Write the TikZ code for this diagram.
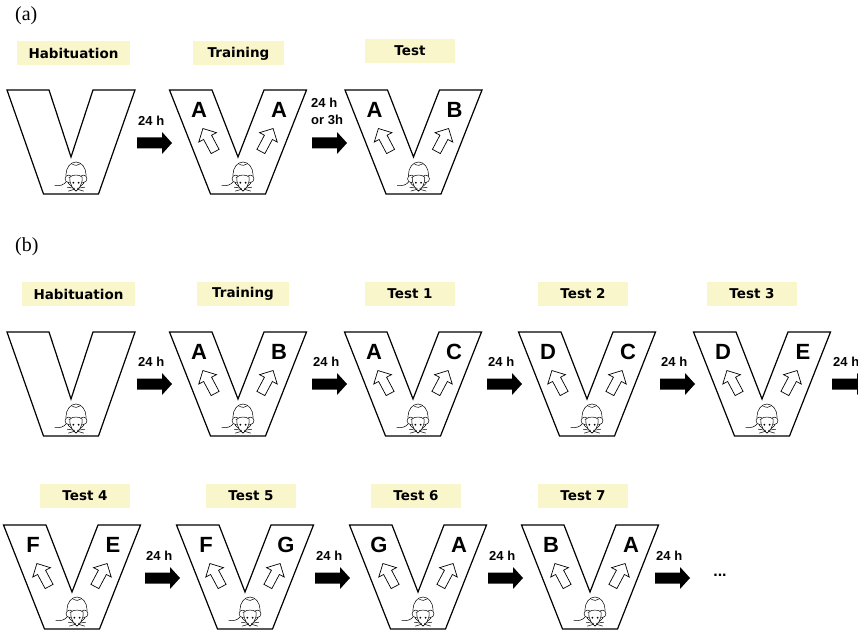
\documentclass[tikz,border=0pt]{standalone}
\usepackage{fontspec}
\setmainfont{Liberation Serif}
\newfontfamily\stagefont{DejaVu Sans}
\newfontfamily\armfont{Liberation Sans}
\definecolor{labelfill}{RGB}{250,246,204}

\tikzset{
  stagebox/.style={fill=labelfill, inner sep=0pt, minimum height=24pt,
    font=\stagefont\bfseries\fontsize{13.5}{16}\selectfont},
  armletter/.style={inner sep=0pt, font=\armfont\bfseries\fontsize{22}{25}\selectfont},
  delaylabel/.style={inner sep=0pt, anchor=north west, align=left,
    font=\armfont\bfseries\fontsize{13}{17}\selectfont},
  panellabel/.style={inner sep=0pt, anchor=north west, font=\fontsize{20}{23}\selectfont},
  mazeline/.style={line width=1.2pt, line join=miter},
  % V-shaped maze: outer half width, half gap between the arm tops
  pics/vmaze/.style n args={2}{code={
    \draw[mazeline] (-#1,0) -- (-#2,0) -- (0,67) -- (#2,0) -- (#1,0)
      -- (27.5,104) -- (-27.5,104) -- cycle;
  }},
  % hollow arrow pointing up
  pics/openarrow/.style={code={
    \draw[line width=0.7pt, fill=white, line join=miter]
      (0,-13) -- (10,-3) -- (4.5,-3) -- (4.5,13) -- (-4.5,13) -- (-4.5,-3) -- (-10,-3) -- cycle;
  }},
  % filled arrow pointing right, tail at the origin
  pics/blockarrow/.style={code={
    \fill (0,-5.5) -- (25,-5.5) -- (25,-11) -- (35,0) -- (25,11) -- (25,5.5) -- (0,5.5) -- cycle;
  }},
  % mouse seen from above, head towards the bottom
  pics/mouse/.style={code={
    \begin{scope}[line width=0.5pt, scale=1.12]
      \draw[fill=white] (0,-1) ellipse [x radius=9, y radius=11.5];
      \draw (-4,-11) .. controls (-1,-9) and (2,-9) .. (4,-11);
      \draw (-8.5,5) .. controls (-11,8) and (-14,9) .. (-19,8.5);
      \draw[fill=white] (-6.5,2.5) circle [radius=3.3];
      \draw[fill=white] (6.5,2.5) circle [radius=3.3];
      \draw[fill=white] (-5.5,1) .. controls (-6,8) and (-2,12) .. (0,13.5)
        .. controls (2,12) and (6,8) .. (5.5,1) .. controls (3,-1.5) and (-3,-1.5) .. cycle;
      \fill (-2.3,6) circle [radius=0.9];
      \fill (2.3,6) circle [radius=0.9];
      \fill (0,13) circle [radius=0.7];
      \draw (-1,11) -- (-8,10);
      \draw (-1,11.8) -- (-7,13.5);
      \draw (1,11) -- (8,10);
      \draw (1,11.8) -- (7,13.5);
    \end{scope}
  }},
}

% maze with arm cues: name, centre x, top y, left cue, right cue
\newcommand\cuemaze[5]{%
  \pic at (#2,#3) {vmaze={68.5}{26}};
  \node[armletter] (#1-left) at (#2-39,#3+20) {#4};
  \node[armletter] (#1-right) at (#2+41,#3+20) {#5};
  \pic[rotate=28] at (#2-29,#3+50) {openarrow};
  \pic[rotate=-28] at (#2+29,#3+50) {openarrow};
  \pic at (#2+5,#3+86) {mouse};
}
% empty maze used for habituation
\newcommand\plainmaze[2]{%
  \pic at (#1,#2) {vmaze={64}{22}};
  \pic at (#1+5,#2+86) {mouse};
}
% delay arrow: name, tail x, centre y, text
\newcommand\delayarrow[4]{%
  \pic at (#2,#3) {blockarrow};
  \node[delaylabel] (#1) at (#2+1,#3-27) {#4};
}

\begin{document}
\begin{tikzpicture}[x=1pt,y=-1pt]
  \clip (0,0) rectangle (858,631);
  \fill[white] (0,0) rectangle (858,631);

  % ---------- panel (a) ----------
  \node[panellabel] (pa) at (15,6) {(a)};

  \node[stagebox, minimum width=113pt] (a-hab) at (73.5,53) {Habituation};
  \node[stagebox, minimum width=91pt] (a-train) at (238.5,53.5) {Training};
  \node[stagebox, minimum width=90pt] (a-test) at (410,51) {Test};

  \plainmaze{71}{90}
  \cuemaze{a-m2}{238}{90}{A}{A}
  \cuemaze{a-m3}{413.5}{90}{A}{B}

  \delayarrow{a-d1}{137}{143}{24 h}
  \pic at (312,143) {blockarrow};
  \node[delaylabel] (a-d2) at (311,98) {24 h\\or 3h};

  % ---------- panel (b) ----------
  \node[panellabel] (pb) at (15,237) {(b)};

  \node[stagebox, minimum width=113pt] (b-hab) at (78.5,294) {Habituation};
  \node[stagebox, minimum width=92pt] (b-train) at (243,294) {Training};
  \node[stagebox, minimum width=90pt] (b-t1) at (410,294) {Test 1};
  \node[stagebox, minimum width=90pt] (b-t2) at (583,294) {Test 2};
  \node[stagebox, minimum width=90pt] (b-t3) at (752,294) {Test 3};

  \plainmaze{71}{332}
  \cuemaze{b-m2}{238}{332}{A}{B}
  \cuemaze{b-m3}{413}{332}{A}{C}
  \cuemaze{b-m4}{587}{332}{D}{C}
  \cuemaze{b-m5}{762}{332}{D}{E}

  \delayarrow{b-d1}{137}{384}{24 h}
  \delayarrow{b-d2}{312}{384}{24 h}
  \delayarrow{b-d3}{487}{384}{24 h}
  \delayarrow{b-d4}{660}{384}{24 h}
  \delayarrow{b-d5}{832}{384}{24 h}

  \node[stagebox, minimum width=90pt] (b-t4) at (85,495.5) {Test 4};
  \node[stagebox, minimum width=90pt] (b-t5) at (251,495.5) {Test 5};
  \node[stagebox, minimum width=90pt] (b-t6) at (416,495.5) {Test 6};
  \node[stagebox, minimum width=90pt] (b-t7) at (583,495.5) {Test 7};

  \cuemaze{b-m6}{72}{525}{F}{E}
  \cuemaze{b-m7}{245}{525}{F}{G}
  \cuemaze{b-m8}{418}{525}{G}{A}
  \cuemaze{b-m9}{590}{525}{B}{A}

  \delayarrow{b-d6}{145}{578}{24 h}
  \delayarrow{b-d7}{315}{578}{24 h}
  \delayarrow{b-d8}{488}{578}{24 h}
  \delayarrow{b-d9}{655}{578}{24 h}

  \node[inner sep=0pt, font=\armfont\bfseries\fontsize{16}{19}\selectfont] (more) at (720,575) {...};
\end{tikzpicture}
\end{document}
